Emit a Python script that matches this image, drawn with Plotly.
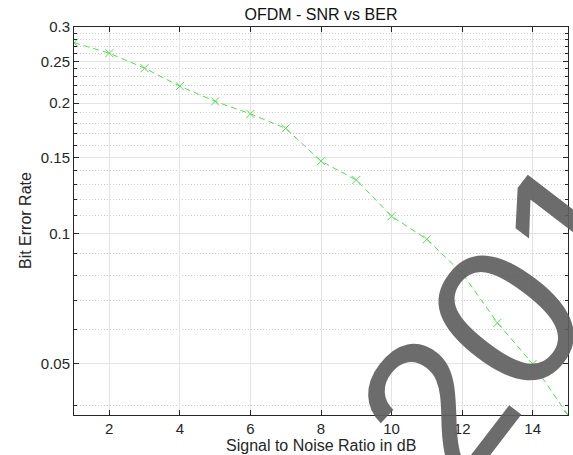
import plotly.graph_objects as go

# SNR sweep (dB) and measured bit error rate
snr_db = [1, 2, 3, 4, 5, 6, 7, 8, 9, 10, 11, 12, 13, 14, 15]
ber = [0.276, 0.261, 0.241, 0.219, 0.202, 0.189, 0.175, 0.147, 0.133,
       0.1097, 0.097, 0.081, 0.0622, 0.050, 0.0381]

x_ticks = [2, 4, 6, 8, 10, 12, 14]
y_ticks = [0.05, 0.1, 0.15, 0.2, 0.25, 0.3]
y_tick_text = ["0.05", "0.1", "0.15", "0.2", "0.25", "0.3"]
y_minor = [0.04, 0.06, 0.07, 0.08, 0.09, 0.11, 0.12, 0.13, 0.14,
           0.16, 0.17, 0.18, 0.19, 0.21, 0.22, 0.23, 0.24,
           0.26, 0.27, 0.28, 0.29]

FONT = "Liberation Sans, Arial, Helvetica, sans-serif"
AXIS_COLOR = "#262626"
GREEN = "rgb(80,225,80)"

fig = go.Figure()
fig.add_trace(go.Scatter(
    x=snr_db, y=ber, mode="lines+markers",
    line=dict(color=GREEN, width=1, dash="6px,4px"),
    marker=dict(symbol="x-thin", size=8, line=dict(color=GREEN, width=1)),
    showlegend=False,
))

fig.update_layout(
    width=573, height=455,
    margin=dict(l=74, r=5, t=27, b=40),
    paper_bgcolor="white", plot_bgcolor="white",
    font=dict(family=FONT, color=AXIS_COLOR, size=15),
    title=dict(text="OFDM - SNR vs BER", x=(74 + 568) / 2 / 573, xanchor="center",
               y=1 - 14 / 455, yanchor="middle",
               font=dict(family=FONT, size=16, color="#111111")),
    xaxis=dict(
        range=[1, 15], tickvals=x_ticks, ticks="inside", ticklen=5,
        tickcolor=AXIS_COLOR, showline=True, linecolor=AXIS_COLOR, linewidth=1,
        mirror="ticks", showgrid=True, gridcolor="#e3e3e3", gridwidth=1,
        zeroline=False, tickfont=dict(size=15, color=AXIS_COLOR),
    ),
    yaxis=dict(
        type="log", range=[-1.419, -0.5229], tickvals=y_ticks, ticktext=y_tick_text,
        ticks="inside", ticklen=5, tickcolor=AXIS_COLOR,
        showline=True, linecolor=AXIS_COLOR, linewidth=1, mirror="ticks",
        showgrid=True, gridcolor="#e3e3e3", gridwidth=1, zeroline=False,
        tickfont=dict(size=15, color=AXIS_COLOR),
        minor=dict(tickmode="array", tickvals=y_minor, ticks="inside", ticklen=3,
                   tickcolor=AXIS_COLOR, showgrid=True, gridcolor="#d0d0d0",
                   griddash="1px,2px", gridwidth=1),
    ),
    annotations=[
        dict(text="Signal to Noise Ratio in dB", xref="paper", yref="paper",
             x=0.5, y=-30 / 388, xanchor="center", yanchor="middle",
             showarrow=False, font=dict(family=FONT, size=16, color=AXIS_COLOR)),
        dict(text="Bit Error Rate", xref="paper", yref="paper",
             x=-49 / 494, y=0.5, xanchor="center", yanchor="middle", textangle=-90,
             showarrow=False, font=dict(family=FONT, size=16, color=AXIS_COLOR)),
        dict(text="2016", xref="paper", yref="paper",
             x=(540 - 74) / 494, y=(415 - 272) / 388, xanchor="center", yanchor="middle",
             textangle=-52.5, showarrow=False,
             font=dict(family=FONT, size=205, color="rgba(95,95,95,0.92)")),
    ],
)

fig.write_html("out.html")
